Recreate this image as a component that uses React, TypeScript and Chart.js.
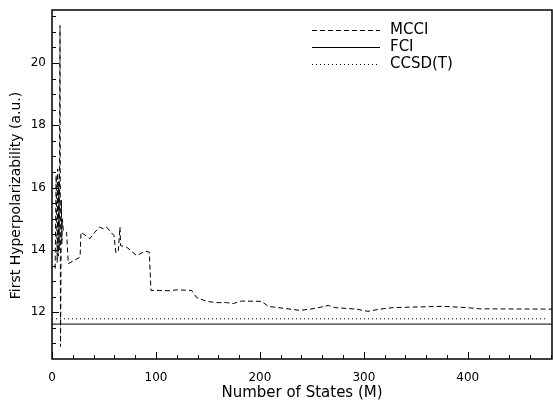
import React, { useEffect, useRef } from "react";
import { Chart, registerables } from "chart.js";

Chart.register(...registerables);

// ---- data ----
const seriesNames = ["MCCI", "FCI", "CCSD(T)"];
const mcciStates = [
  3, 4, 5, 5.5, 6, 6.5, 7, 7.7, 8.2, 9, 9.5, 10, 10.9, 14, 15.7, 27, 27.9, 36.5,
  41.3, 45.5, 49.4, 52.6, 56.7, 59.6, 61.5, 63.8, 65.4, 66, 71.8, 81.4, 84.6,
  89.4, 93.6, 95.2, 103.8, 113.5, 119.9, 134.3, 139.1, 148.7, 158.4, 168, 174.4,
  182.4, 201.6, 208, 238.5, 252.9, 265.7, 272, 292.9, 304, 315.4, 328.2, 376.3,
  398.7, 411.5, 481,
];
const mcciValues = [
  13.4, 16.4, 13.6, 16.6, 13.8, 16.2, 14.0, 21.2, 10.9, 15.6, 14.2, 15.0, 14.62,
  14.57, 13.56, 13.77, 14.57, 14.36, 14.57, 14.73, 14.68, 14.73, 14.57, 14.46,
  13.9, 13.98, 14.73, 14.14, 14.09, 13.82, 13.87, 13.96, 13.93, 12.7, 12.7,
  12.69, 12.72, 12.7, 12.47, 12.35, 12.31, 12.31, 12.28, 12.36, 12.35, 12.19,
  12.06, 12.12, 12.22, 12.15, 12.1, 12.03, 12.1, 12.15, 12.19, 12.15, 12.11,
  12.1,
];
const fciStates = [0, 481];
const fciValues = [11.62, 11.62];
const ccsdStates = [0, 477];
const ccsdValues = [11.79, 11.79];

const xMin = 0;
const xMax = 481;
const yMin = 10.5;
const yMax = 21.7;
const xTickLabels = [0, 100, 200, 300, 400];
const yTickLabels = [12, 14, 16, 18, 20];
const xMinorStep = 20;
const yMinorStep = 0.5;
const xTitle = "Number of States (M)";
const yTitle = "First Hyperpolarizability (a.u.)";

const FONT = "'DejaVu Sans', sans-serif";

const toPoints = (xs: number[], ys: number[]) =>
  xs.map((x, i) => ({ x, y: ys[i] }));

const framePlugin = {
  id: "frameTicks",
  afterDraw(chart: any) {
    const { ctx, chartArea, scales } = chart;
    const xs = scales.x;
    const ys = scales.y;
    ctx.save();
    ctx.strokeStyle = "#000";
    // ticks
    ctx.lineWidth = 1;
    ctx.beginPath();
    for (let v = xMin; v <= xMax; v += xMinorStep) {
      const px = Math.round(xs.getPixelForValue(v)) + 0.5;
      const major = xTickLabels.includes(v);
      ctx.moveTo(px, chartArea.bottom);
      ctx.lineTo(px, chartArea.bottom - (major ? 7 : 4));
    }
    for (let v = 11; v <= yMax; v += yMinorStep) {
      const py = Math.round(ys.getPixelForValue(v)) + 0.5;
      const major = yTickLabels.includes(v);
      ctx.moveTo(chartArea.left, py);
      ctx.lineTo(chartArea.left + (major ? 7 : 4), py);
    }
    ctx.stroke();
    // frame
    ctx.lineWidth = 1.5;
    ctx.strokeRect(
      chartArea.left,
      chartArea.top,
      chartArea.right - chartArea.left,
      chartArea.bottom - chartArea.top
    );
    // y title
    ctx.fillStyle = "#000";
    ctx.font = `14px ${FONT}`;
    ctx.textAlign = "center";
    ctx.textBaseline = "middle";
    ctx.save();
    ctx.translate(16, (chartArea.top + chartArea.bottom) / 2 + 11);
    ctx.rotate(-Math.PI / 2);
    ctx.fillText(yTitle, 0, 0);
    ctx.restore();
    // legend
    const datasets = chart.data.datasets;
    const lx0 = chartArea.right - 240;
    const lx1 = chartArea.right - 172;
    const tx = chartArea.right - 162;
    ctx.font = `15px ${FONT}`;
    ctx.textBaseline = "middle";
    ctx.textAlign = "left";
    datasets.forEach((ds: any, i: number) => {
      const y = chartArea.top + 20 + i * 17;
      ctx.beginPath();
      ctx.setLineDash(ds.borderDash || []);
      ctx.lineWidth = ds.borderWidth;
      ctx.moveTo(lx0, Math.round(y) + 0.5);
      ctx.lineTo(lx1, Math.round(y) + 0.5);
      ctx.stroke();
      ctx.setLineDash([]);
      ctx.fillText(ds.label, tx, y);
    });
    ctx.restore();
  },
};

export default function App() {
  const ref = useRef<HTMLCanvasElement | null>(null);
  useEffect(() => {
    if (!ref.current) return;
    const chart = new Chart(ref.current, {
      type: "line",
      data: {
        datasets: [
          {
            label: seriesNames[0],
            data: toPoints(mcciStates, mcciValues),
            borderColor: "#000",
            borderWidth: 1,
            borderDash: [5, 3],
            pointRadius: 0,
            tension: 0,
          },
          {
            label: seriesNames[1],
            data: toPoints(fciStates, fciValues),
            borderColor: "#000",
            borderWidth: 1,
            pointRadius: 0,
          },
          {
            label: seriesNames[2],
            data: toPoints(ccsdStates, ccsdValues),
            borderColor: "#000",
            borderWidth: 1,
            borderDash: [1, 3],
            pointRadius: 0,
          },
        ],
      },
      options: {
        animation: false,
        responsive: false,
        layout: { padding: { top: 10, right: 1, left: 0, bottom: 0 } },
        plugins: { legend: { display: false }, tooltip: { enabled: false } },
        scales: {
          x: {
            type: "linear",
            min: xMin,
            max: xMax,
            grid: { display: false, drawTicks: false },
            border: { display: false },
            afterBuildTicks: (s: any) => {
              s.ticks = xTickLabels.map((v) => ({ value: v }));
            },
            afterFit: (s: any) => {
              s.height = 46;
              s.paddingLeft = 0;
              s.paddingRight = 0;
            },
            ticks: {
              color: "#000",
              padding: 12,
              maxRotation: 0,
              font: { family: FONT, size: 12 },
            },
            title: {
              display: true,
              text: xTitle,
              color: "#000",
              font: { family: FONT, size: 15 },
              padding: { top: 0, bottom: 3 },
            },
          },
          y: {
            type: "linear",
            min: yMin,
            max: yMax,
            grid: { display: false, drawTicks: false },
            border: { display: false },
            afterBuildTicks: (s: any) => {
              s.ticks = yTickLabels.map((v) => ({ value: v }));
            },
            afterFit: (s: any) => {
              s.width = 52;
              s.paddingTop = 0;
              s.paddingBottom = 0;
            },
            ticks: {
              color: "#000",
              padding: 6,
              font: { family: FONT, size: 12 },
            },
          },
        },
      },
      plugins: [framePlugin],
    });
    return () => chart.destroy();
  }, []);
  return (
    <div style={{ position: "absolute", left: 0, top: 0, width: 553, height: 405, background: "#fff" }}>
      <canvas ref={ref} width={553} height={405} style={{ width: 553, height: 405, display: "block" }} />
    </div>
  );
}
